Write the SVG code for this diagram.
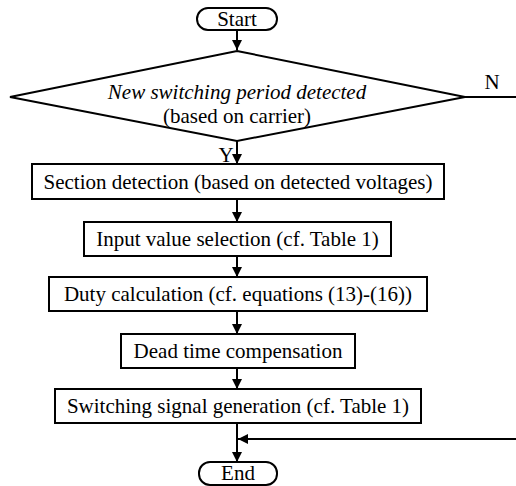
<svg xmlns="http://www.w3.org/2000/svg" width="516" height="486" viewBox="0 0 516 486">
<style>
.shape{fill:#fff;stroke:#000;stroke-width:2}
.line{fill:none;stroke:#000;stroke-width:2}
text{font-family:'Liberation Serif','Times New Roman','DejaVu Serif',serif;font-size:21px;fill:#000;text-anchor:middle}
.it{font-style:italic}
</style>
<defs>
<marker id="arr" viewBox="0 0 10 10" refX="10" refY="5" markerWidth="10" markerHeight="10" markerUnits="userSpaceOnUse" orient="auto">
<path d="M0,0 L10,5 L0,10 Z" fill="#000"/>
</marker>
</defs>
<g id="connectors">
<line class="line" x1="237" y1="30" x2="237" y2="50" marker-end="url(#arr)"/>
<line class="line" x1="237" y1="141" x2="237" y2="164" marker-end="url(#arr)"/>
<line class="line" x1="237" y1="199" x2="237" y2="222" marker-end="url(#arr)"/>
<line class="line" x1="237" y1="256" x2="237" y2="277" marker-end="url(#arr)"/>
<line class="line" x1="237" y1="311" x2="237" y2="334" marker-end="url(#arr)"/>
<line class="line" x1="237" y1="368" x2="237" y2="389" marker-end="url(#arr)"/>
<line class="line" x1="237" y1="423" x2="237" y2="462" marker-end="url(#arr)"/>
<polyline class="line" points="465,97 516,97"/>
<line class="line" x1="516" y1="439" x2="238" y2="439" marker-end="url(#arr)"/>
<text x="492" y="89" font-family="Liberation Serif, serif">N</text>
<text x="226" y="162" font-family="Liberation Serif, serif">Y</text>
</g>
<g id="start">
<rect class="shape" x="197" y="8" width="80" height="22" rx="11"/>
<text x="237" y="26" font-family="Liberation Serif, serif">Start</text>
</g>
<g id="decision">
<polygon class="shape" points="237,51 465,97 237,141 10,97"/>
<text class="it" x="237" y="99" font-family="Liberation Serif, serif">New switching period detected</text>
<text x="237" y="123" font-family="Liberation Serif, serif">(based on carrier)</text>
</g>
<g id="section">
<rect class="shape" x="32" y="164" width="412" height="35"/>
<text x="238" y="189" font-family="Liberation Serif, serif">Section detection (based on detected voltages)</text>
</g>
<g id="input">
<rect class="shape" x="84" y="222" width="307" height="34"/>
<text x="237.5" y="246" font-family="Liberation Serif, serif">Input value selection (cf. Table 1)</text>
</g>
<g id="duty">
<rect class="shape" x="49" y="277" width="378" height="34"/>
<text x="238" y="301" font-family="Liberation Serif, serif">Duty calculation (cf. equations (13)-(16))</text>
</g>
<g id="deadtime">
<rect class="shape" x="121" y="334" width="234" height="34"/>
<text x="238" y="358" font-family="Liberation Serif, serif">Dead time compensation</text>
</g>
<g id="switching">
<rect class="shape" x="55" y="389" width="366" height="34"/>
<text x="238" y="413" font-family="Liberation Serif, serif">Switching signal generation (cf. Table 1)</text>
</g>
<g id="end">
<rect class="shape" x="199" y="462" width="78" height="23" rx="11"/>
<text x="238" y="480" font-family="Liberation Serif, serif">End</text>
</g>
</svg>
